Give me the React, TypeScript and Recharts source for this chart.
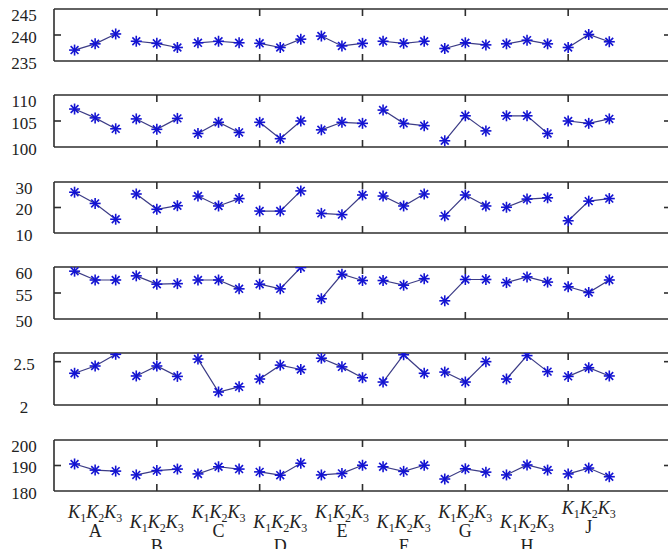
import { LineChart, Line, XAxis, YAxis } from "recharts";

const groupNames = ["A", "B", "C", "D", "E", "F", "G", "H", "J"];
const levelNames = ["K1", "K2", "K3"];

// values read per factor level, K1..K3 for A..J
const row1 = [237.1, 238.3, 240.2, 238.8, 238.4, 237.6, 238.5, 238.8, 238.5, 238.4, 237.6, 239.2, 239.8, 237.9, 238.4, 238.8, 238.4, 238.8, 237.4, 238.5, 238.1, 238.3, 239.0, 238.3, 237.6, 240.1, 238.7];
const row2 = [107.3, 105.6, 103.5, 105.4, 103.4, 105.5, 102.6, 104.75, 102.8, 104.75, 101.6, 105.0, 103.3, 104.75, 104.55, 107.1, 104.55, 104.1, 101.2, 106.0, 103.1, 106.0, 106.0, 102.6, 105.0, 104.55, 105.4];
const row3 = [26.0, 21.6, 15.4, 25.3, 19.3, 20.7, 24.5, 20.6, 23.5, 18.6, 18.6, 26.5, 17.7, 17.2, 24.9, 24.5, 20.6, 25.3, 16.7, 24.9, 20.6, 20.1, 23.3, 23.8, 14.8, 22.5, 23.5];
const row4 = [59.2, 57.5, 57.5, 58.3, 56.7, 56.8, 57.5, 57.5, 55.8, 56.7, 55.8, 59.9, 53.9, 58.6, 57.4, 57.4, 56.5, 57.75, 53.5, 57.6, 57.6, 57.0, 58.1, 57.1, 56.2, 55.1, 57.5];
const row5 = [2.366, 2.45, 2.585, 2.335, 2.45, 2.33, 2.53, 2.15, 2.21, 2.3, 2.46, 2.41, 2.54, 2.44, 2.315, 2.265, 2.58, 2.366, 2.38, 2.265, 2.5, 2.3, 2.57, 2.385, 2.33, 2.43, 2.335];
const row6 = [190.6, 188.2, 187.8, 186.3, 188.0, 188.6, 186.7, 189.5, 188.6, 187.5, 186.2, 190.9, 186.3, 186.9, 190.1, 189.5, 187.7, 190.1, 184.7, 188.7, 187.4, 186.3, 190.2, 188.2, 186.7, 189.0, 185.6];

const xTicks = [5, 10, 15, 20, 25, 30];
const xDomain = [0, 30];

const panels = [
  { values: row1, domain: [235, 245], ticks: [235, 240, 245], top: 9, h: 52 },
  { values: row2, domain: [100, 110], ticks: [100, 105, 110], top: 95, h: 52 },
  { values: row3, domain: [10, 30], ticks: [10, 20, 30], top: 182, h: 51 },
  { values: row4, domain: [50, 60], ticks: [50, 55, 60], top: 267, h: 52 },
  { values: row5, domain: [2, 2.6], ticks: [2, 2.5], top: 353, h: 52 },
  { values: row6, domain: [180, 200], ticks: [180, 190, 200], top: 440, h: 51 },
];

const FONT = "Liberation Serif";
const BORDER = "#2e2e2e";
const LINE = "#3c3c86";
const MARK = "#1414d2";
const PAD = 16;
const TICK = 7;
const W = 698;
const ML = 54;
const MR = 27;
const PLOT_W = W - ML - MR;

const groupData = (values: number[], g: number) =>
  levelNames.map((lv, k) => ({ x: g * 3 + k + 1, level: lv, value: values[g * 3 + k] }));

// inward tick marks as short two-point segments, TICK px converted to data units
const tickSegments = (p: any) => {
  const [y0, y1] = p.domain;
  const dy = ((y1 - y0) * TICK) / p.h;
  const dx = ((xDomain[1] - xDomain[0]) * TICK) / PLOT_W;
  const segs: any[] = [];
  xTicks.forEach((t) => {
    segs.push([{ x: t, value: y0 }, { x: t, value: y0 + dy }]);
    segs.push([{ x: t, value: y1 }, { x: t, value: y1 - dy }]);
  });
  p.ticks
    .filter((t: number) => t > y0 && t < y1)
    .forEach((t: number) => {
      segs.push([{ x: xDomain[0], value: t }, { x: xDomain[0] + dx, value: t }]);
      segs.push([{ x: xDomain[1], value: t }, { x: xDomain[1] - dx, value: t }]);
    });
  return segs;
};

const Star = (props: any) => {
  const { cx, cy } = props;
  if (cx == null || cy == null) return null;
  const r = 5.5;
  const d = 3.9;
  return (
    <g stroke={MARK} strokeWidth={1.6}>
      <line x1={cx - r} y1={cy} x2={cx + r} y2={cy} />
      <line x1={cx} y1={cy - r} x2={cx} y2={cy + r} />
      <line x1={cx - d} y1={cy - d} x2={cx + d} y2={cy + d} />
      <line x1={cx - d} y1={cy + d} x2={cx + d} y2={cy - d} />
    </g>
  );
};

const YTick = (props: any) => {
  const { y, payload, hi } = props;
  const isTop = payload.value === hi;
  return (
    <text x={24} y={y + (isTop ? 6 : 2)} dy="0.35em" textAnchor="middle" fontFamily={FONT} fontSize={17} fill="#222">
      {payload.value}
    </text>
  );
};

const GroupTick = (props: any) => {
  const { x, y, payload } = props;
  const g = Math.round((payload.value - 2) / 3);
  const low = g % 2 === 1;
  const lift = g === groupNames.length - 1 ? -4 : 0;
  const ky = (low ? 37 : 27) + lift;
  const ly = (low ? 61 : 46) + lift;
  return (
    <g transform={`translate(${x},${y})`} fontFamily={FONT} fill="#222">
      <text x={0} y={ky} textAnchor="middle" fontSize={18}>
        <tspan fontStyle="italic">K</tspan>
        <tspan fontSize={12} dy={4}>1</tspan>
        <tspan fontStyle="italic" dy={-4}>K</tspan>
        <tspan fontSize={12} dy={4}>2</tspan>
        <tspan fontStyle="italic" dy={-4}>K</tspan>
        <tspan fontSize={12} dy={4}>3</tspan>
      </text>
      <text x={0} y={ly} textAnchor="middle" fontSize={18}>
        {groupNames[g]}
      </text>
    </g>
  );
};

const groupCenters = groupNames.map((_, g) => g * 3 + 2);

export default function App() {
  return (
    <div style={{ position: "absolute", left: 0, top: 0, width: 668, height: 549, overflow: "hidden", background: "#fff" }}>
      {panels.map((p, pi) => {
        const last = pi === panels.length - 1;
        const height = last ? PAD + p.h + 70 : p.h + 2 * PAD;
        return (
          <div key={pi} style={{ position: "absolute", left: 0, top: p.top - PAD }}>
            <LineChart width={W} height={height} margin={{ top: PAD, right: MR, bottom: last ? 0 : PAD, left: ML }}>
              <XAxis xAxisId="b" type="number" dataKey="x" domain={xDomain} ticks={xTicks} orientation="bottom" mirror tickLine={false} tick={false} stroke={BORDER} strokeWidth={1.6} allowDataOverflow />
              <XAxis xAxisId="t" type="number" dataKey="x" domain={xDomain} ticks={xTicks} orientation="top" mirror tickLine={false} tick={false} stroke={BORDER} strokeWidth={1.6} allowDataOverflow />
              {last && (
                <XAxis xAxisId="lab" type="number" dataKey="x" domain={xDomain} ticks={groupCenters} orientation="bottom" height={70} axisLine={false} tickLine={false} tickSize={0} tickMargin={0} tick={<GroupTick />} interval={0} allowDataOverflow />
              )}
              <YAxis yAxisId="l" type="number" domain={p.domain} ticks={p.ticks} orientation="left" mirror tickLine={false} tickSize={0} tickMargin={0} stroke={BORDER} strokeWidth={1.6} tick={<YTick hi={p.domain[1]} />} interval={0} allowDataOverflow />
              <YAxis yAxisId="r" type="number" domain={p.domain} ticks={p.ticks} orientation="right" mirror tickLine={false} tick={false} stroke={BORDER} strokeWidth={1.6} allowDataOverflow />
              {tickSegments(p).map((seg, i) => (
                <Line
                  key={`tk${i}`}
                  xAxisId="b"
                  yAxisId="l"
                  data={seg}
                  dataKey="value"
                  type="linear"
                  stroke={BORDER}
                  strokeWidth={1.6}
                  dot={false}
                  activeDot={false}
                  legendType="none"
                  isAnimationActive={false}
                />
              ))}
              {groupNames.map((name, g) => (
                <Line
                  key={name}
                  xAxisId="b"
                  yAxisId="l"
                  data={groupData(p.values, g)}
                  dataKey="value"
                  type="linear"
                  stroke={LINE}
                  strokeWidth={1.2}
                  dot={(dp: any) => <Star key={`${name}-${dp.index}`} {...dp} />}
                  activeDot={false}
                  isAnimationActive={false}
                />
              ))}
              {last &&
                groupNames.map((name, g) => (
                  <Line
                    key={`lab-${name}`}
                    xAxisId="lab"
                    yAxisId="l"
                    data={groupData(p.values, g)}
                    dataKey="value"
                    stroke="none"
                    dot={false}
                    activeDot={false}
                    legendType="none"
                    isAnimationActive={false}
                  />
                ))}
            </LineChart>
          </div>
        );
      })}
    </div>
  );
}
